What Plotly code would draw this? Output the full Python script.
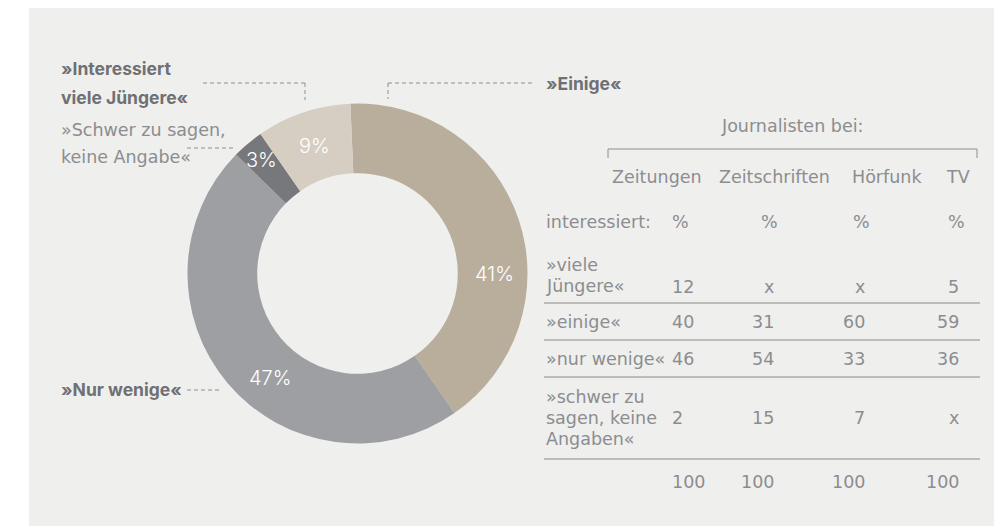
import plotly.graph_objects as go
import math

# the page body adds an 8px margin; the figure fills the rest of the 1002x526 window
OFF = 8
W, H = 1002 - OFF, 526 - OFF

# ---- data ----
pie_labels = ["»Einige«", "»Nur wenige«", "»Schwer zu sagen, keine Angabe«", "»Interessiert viele Jüngere«"]
pie_values = [41, 47, 3, 9]
pie_colors = ["#b9ae9c", "#9e9fa3", "#77787c", "#d6cec2"]

table_title = "Journalisten bei:"
columns = ["Zeitungen", "Zeitschriften", "Hörfunk", "TV"]
unit_row_label = "interessiert:"
unit_row = ["%", "%", "%", "%"]
row_labels = ["»viele<br>Jüngere«", "»einige«", "»nur wenige«", "»schwer zu<br>sagen, keine<br>Angaben«"]
zeitungen = ["12", "40", "46", "2"]
zeitschriften = ["x", "31", "54", "15"]
hoerfunk = ["x", "60", "33", "7"]
tv = ["5", "59", "36", "x"]
totals = ["100", "100", "100", "100"]

# ---- helpers (page pixel -> paper) ----
def px(x):
    return (x - OFF) / W

def py(y):
    return 1 - (y - OFF) / H

FONT = "DejaVu Sans"
BFONT = "Inter"
TXT = "#8c8d90"
DARK = "#6f7074"
BG = "#efefed"

cx, cy, R = 357.5, 273.5, 170.0
hole = 0.59
rotation = -2.4

fig = go.Figure()
fig.add_trace(go.Pie(
    labels=pie_labels, values=pie_values, sort=False, direction="clockwise",
    rotation=rotation, hole=hole, textinfo="none", hoverinfo="label+percent",
    marker=dict(colors=pie_colors, line=dict(width=0)),
    domain=dict(x=[px(cx - R), px(cx + R)], y=[py(cy + R), py(cy - R)]),
    showlegend=False,
))

annotations = []
shapes = []

# white strip on the left of the grey panel
shapes.append(dict(type="rect", xref="paper", yref="paper", x0=0, x1=px(29), y0=0, y1=1,
                   fillcolor="white", line=dict(width=0), layer="below"))

# slice percentage labels
label_shift = [18.6, -10.0, 0.0, 0.0]
label_r = [137, 136, 148, 134]
total = sum(pie_values)
start = rotation
for v, sh, rr in zip(pie_values, label_shift, label_r):
    mid = start + v / total * 360 / 2 + sh
    start += v / total * 360
    a = math.radians(mid)
    x = cx + rr * math.sin(a)
    y = cy - rr * math.cos(a)
    annotations.append(dict(x=px(x), y=py(y), xref="paper", yref="paper", text=f"{v}%",
                            showarrow=False, xanchor="center", yanchor="middle",
                            font=dict(family="Inter", size=20, color="white", weight=300)))

def note(x, y, text, anchor="left", size=17.5, color=TXT, bold=False, family=None):
    annotations.append(dict(x=px(x), y=py(y), xref="paper", yref="paper", text=text,
                            showarrow=False, xanchor=anchor, yanchor="middle", align=anchor,
                            font=dict(family=family or (BFONT if bold else FONT), size=size,
                                      color=color, weight=700 if bold else 400)))

def dline(x0, y0, x1, y1):
    shapes.append(dict(type="line", xref="paper", yref="paper", x0=px(x0), y0=py(y0),
                       x1=px(x1), y1=py(y1), line=dict(color="#8e8e90", width=1, dash="4px,3px")))

def sline(x0, y0, x1, y1, color="#8e8e90"):
    shapes.append(dict(type="line", xref="paper", yref="paper", x0=px(x0), y0=py(y0),
                       x1=px(x1), y1=py(y1), line=dict(color=color, width=1)))

# callout labels
note(59, 69, "»Interessiert", bold=True, color=DARK, size=17.5)
note(59, 97, "viele Jüngere«", bold=True, color=DARK, size=17.5)
note(59, 130, "»Schwer zu sagen,", color=TXT, size=17.5)
note(59, 157, "keine Angabe«", color=TXT, size=17.5)
note(59, 389, "»Nur wenige«", bold=True, color=DARK, size=17.5)
note(544, 83, "»Einige«", bold=True, color=DARK, size=17.5)

dline(203, 83, 305, 83)
dline(305, 83, 305, 100)
dline(187, 148, 233, 148)
dline(187, 390, 222, 390)
dline(388, 83, 533, 83)
dline(388, 83, 388, 99)

# table
note(792, 126, table_title, anchor="center")
sline(608, 149, 977, 149)
sline(608, 149, 608, 158)
sline(977, 149, 977, 158)

head_x = [657, 774.5, 886.5, 957.5]
for c, x in zip(columns, head_x):
    note(x, 177, c, anchor="center")

note(544, 222, unit_row_label)
unit_anchor = [(670, "left"), (780, "right"), (872, "right"), (967, "right")]
for u, (x, anc) in zip(unit_row, unit_anchor):
    note(x, 222, u, anchor=anc)

row_y = [287, 322, 359, 418]
label_first_y = [265, 322, 359, 397]
line_step = 21
for lab, y0 in zip(row_labels, label_first_y):
    for i, part in enumerate(lab.split("<br>")):
        note(544, y0 + i * line_step, part)

col_anchor = [(670, "left"), (776, "right"), (867, "right"), (961, "right")]
for vals, (x, anc) in zip([zeitungen, zeitschriften, hoerfunk, tv], col_anchor):
    for v, y in zip(vals, row_y):
        note(x, y, v, anchor=anc)

for ly in [303, 340, 377, 459]:
    sline(544, ly, 980, ly, color="#8a8a8a")

for t, (x, anc) in zip(totals, col_anchor):
    note(x, 482, t, anchor=anc)

fig.update_layout(
    width=W, height=H, margin=dict(l=0, r=0, t=0, b=0),
    paper_bgcolor=BG, plot_bgcolor=BG,
    annotations=annotations, shapes=shapes,
    font=dict(family=FONT, color=TXT),
)

fig.write_html("out.html")
